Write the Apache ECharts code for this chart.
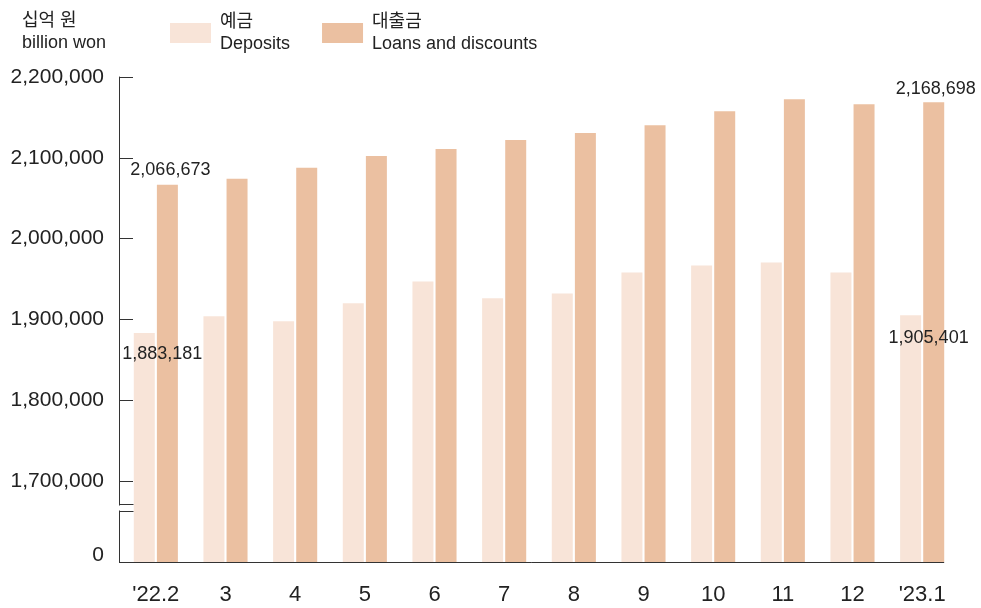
<!DOCTYPE html>
<html>
<head>
<meta charset="utf-8">
<script src="https://cdn.jsdelivr.net/npm/echarts@6/dist/echarts.min.js"></script>
<style>
html,body{margin:0;padding:0;background:#fff;}
#c{width:981px;height:608px;}
</style>
</head>
<body>
<div id="c"></div>
<script>
const categories = ["'22.2", "3", "4", "5", "6", "7", "8", "9", "10", "11", "12", "'23.1"];
const deposits = [1883181, 1904100, 1897900, 1920100, 1947100, 1926200, 1932300, 1958200, 1966800, 1970500, 1958200, 1905401];
const loans = [2066673, 2074000, 2087600, 2102300, 2110900, 2122000, 2130600, 2140400, 2157600, 2172400, 2166200, 2168698];
const yTicks = { min: 1600000, max: 2200000, step: 100000 };
const seriesNames = ['예금\nDeposits', '대출금\nLoans and discounts'];

const FONT = "'Liberation Sans', Arial, 'Noto Sans CJK KR', sans-serif";
const fmt = v => v.toLocaleString('en-US');

function buildData(values, labelCfg) {
  return values.map((v, i) => {
    const cfg = labelCfg[i];
    if (!cfg) return v;
    return { value: v, label: Object.assign({ show: true, formatter: fmt(v) }, cfg) };
  });
}

const labelBase = { color: '#222', fontSize: 18, fontFamily: FONT };
const depData = buildData(deposits, {
  0: Object.assign({ position: 'insideTop', offset: [18, 7] }, labelBase),
  11: Object.assign({ position: 'insideTop', offset: [18, 9] }, labelBase)
});
const loanData = buildData(loans, {
  0: Object.assign({ position: 'top', distance: 6, offset: [3, 0] }, labelBase),
  11: Object.assign({ position: 'top', distance: 4, offset: [2, 0] }, labelBase)
});

const chart = echarts.init(document.getElementById('c'), null, { renderer: 'canvas' });
chart.setOption({
  animation: false,
  backgroundColor: '#fff',
  title: {
    text: '십억 원\nbillion won',
    left: 17, top: 5,
    textStyle: { fontSize: 18, fontWeight: 'normal', color: '#222', fontFamily: FONT, lineHeight: 22 }
  },
  legend: {
    left: 165, top: 6,
    itemWidth: 41, itemHeight: 20, itemGap: 32,
    icon: 'rect',
    textStyle: { fontSize: 18, color: '#222', fontFamily: FONT, lineHeight: 22, padding: [0, 0, 0, 4] },
    data: seriesNames
  },
  grid: { left: 121, right: 24, top: 77, bottom: 46, containLabel: false },
  xAxis: {
    type: 'category',
    data: categories,
    axisLine: { show: false },
    axisTick: { show: false },
    axisLabel: { fontSize: 22, color: '#222', fontFamily: FONT, margin: 22 }
  },
  yAxis: {
    type: 'value',
    min: yTicks.min, max: yTicks.max, interval: yTicks.step,
    offset: 2,
    splitLine: { show: false },
    axisLine: { show: true, lineStyle: { color: '#333', width: 1 } },
    axisTick: { show: true, inside: true, length: 14, lineStyle: { color: '#333', width: 1 } },
    axisLabel: {
      fontSize: 21, color: '#222', fontFamily: FONT, margin: 15,
      formatter: v => v === yTicks.min ? '{z|0}' : fmt(v),
      rich: { z: { fontSize: 21, color: '#222', fontFamily: FONT, padding: [0, 0, 14, 0] } }
    }
  },
  series: [
    { name: seriesNames[0], type: 'bar', data: depData, barWidth: 21, barGap: '10%',
      itemStyle: { color: '#F8E4D8' } },
    { name: seriesNames[1], type: 'bar', data: loanData, barWidth: 21,
      itemStyle: { color: '#EBC0A1' } }
  ]
});

// decorations: x-axis baseline and y-axis break marks
const yBottom = chart.convertToPixel({ yAxisIndex: 0 }, yTicks.min);
const yB1 = Math.round(chart.convertToPixel({ yAxisIndex: 0 }, 1672000)) + 0.5;
const yB2 = Math.round(chart.convertToPixel({ yAxisIndex: 0 }, 1663000)) + 0.5;
const axX = 119.5;
const lastX = chart.convertToPixel({ xAxisIndex: 0 }, categories.length - 1) + 22;
chart.setOption({
  graphic: [
    { type: 'line', shape: { x1: axX, y1: Math.round(yBottom) + 0.5, x2: lastX, y2: Math.round(yBottom) + 0.5 },
      style: { stroke: '#333', lineWidth: 1 }, z: 100 },
    { type: 'rect', shape: { x: axX - 3, y: yB1 + 1, width: 6, height: yB2 - yB1 - 2 },
      style: { fill: '#fff' }, z: 100 },
    { type: 'line', shape: { x1: axX, y1: yB1, x2: axX + 14, y2: yB1 }, style: { stroke: '#333', lineWidth: 1 }, z: 101 },
    { type: 'line', shape: { x1: axX, y1: yB2, x2: axX + 14, y2: yB2 }, style: { stroke: '#333', lineWidth: 1 }, z: 101 }
  ]
});
</script>
</body>
</html>
